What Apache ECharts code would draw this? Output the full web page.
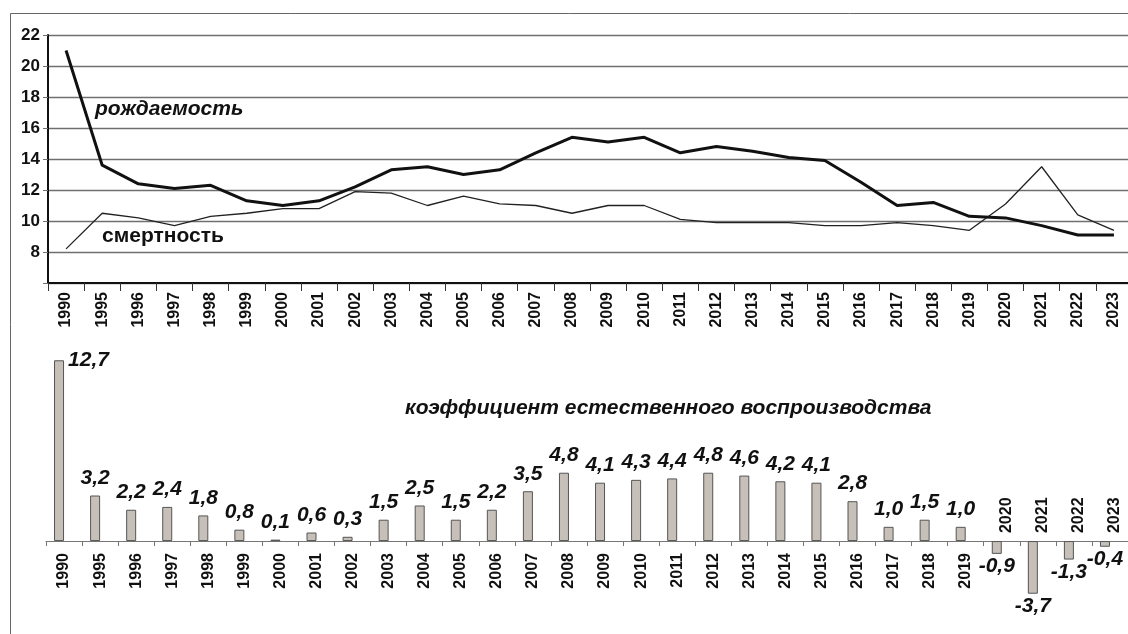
<!DOCTYPE html>
<html>
<head>
<meta charset="utf-8">
<script src="https://cdn.jsdelivr.net/npm/echarts@6/dist/echarts.min.js"></script>
<style>
  html, body { margin: 0; padding: 0; background: #fff; }
  #chart { width: 1128px; height: 634px; }
</style>
</head>
<body>
<div id="chart"></div>
<script>
var myChart = echarts.init(document.getElementById("chart"));

// годы
var years = ["1990", "1995", "1996", "1997", "1998", "1999", "2000", "2001", "2002", "2003",
	"2004", "2005", "2006", "2007", "2008", "2009", "2010", "2011", "2012", "2013",
	"2014", "2015", "2016", "2017", "2018", "2019", "2020", "2021", "2022", "2023"];
// рождаемость, на 1000 чел.
var birthRate = [21.0, 13.6, 12.4, 12.1, 12.3, 11.3, 11.0, 11.3, 12.2, 13.3,
	13.5, 13.0, 13.3, 14.4, 15.4, 15.1, 15.4, 14.4, 14.8, 14.5,
	14.1, 13.9, 12.5, 11.0, 11.2, 10.3, 10.2, 9.7, 9.1, 9.1];
// смертность, на 1000 чел.
var deathRate = [8.2, 10.5, 10.2, 9.7, 10.3, 10.5, 10.8, 10.8, 11.9, 11.8,
	11.0, 11.6, 11.1, 11.0, 10.5, 11.0, 11.0, 10.1, 9.9, 9.9,
	9.9, 9.7, 9.7, 9.9, 9.7, 9.4, 11.1, 13.5, 10.4, 9.4];
// коэффициент естественного воспроизводства
var naturalRate = [12.7, 3.2, 2.2, 2.4, 1.8, 0.8, 0.1, 0.6, 0.3, 1.5,
	2.5, 1.5, 2.2, 3.5, 4.8, 4.1, 4.3, 4.4, 4.8, 4.6,
	4.2, 4.1, 2.8, 1.0, 1.5, 1.0, -0.9, -3.7, -1.3, -0.4];
// деления оси
var yTicks = { min: 6, max: 22, step: 2 };

var font = "'Liberation Sans', Arial, sans-serif";

// нижний график: диапазон и размеры
var barMin = -4, barMax = 13;
var barGridTop = 356, barGridH = 242;
// ось X нижнего графика проходит по нулю
var zeroOffset = -barGridH * (-barMin) / (barMax - barMin);

function fmt(v) {
	return v.toFixed(1).replace(".", ",");
}

var barData = naturalRate.map(function (v, i) {
	var item = { value: v };
	if (v < 0) {
		item.label = { position: "bottom", distance: 2 };
	} else if (i === 0) {
		item.label = { position: [14, 0], align: "left", verticalAlign: "middle" };
	}
	return item;
});

// подписи годов над осью для отрицательных значений
var yearAbove = naturalRate.map(function (v) {
	return v < 0 ? 0 : "-";
});

var option = {
	animation: false,
	backgroundColor: "#fff",
	textStyle: { fontFamily: font },
	graphic: [
		{
			type: "rect",
			left: 8, top: 11,
			shape: { width: 1140, height: 640 },
			style: { fill: "none", stroke: "#666", lineWidth: 1 },
			silent: true
		},
		{
			type: "text",
			left: 95, top: 99,
			style: { text: "рождаемость", font: "italic bold 21px " + font, fill: "#111" }
		},
		{
			type: "text",
			left: 102, top: 226,
			style: { text: "смертность", font: "bold 21px " + font, fill: "#111" }
		},
		{
			type: "text",
			left: 405, top: 398,
			style: { text: "коэффициент естественного воспроизводства", font: "italic bold 21px " + font, fill: "#111" }
		}
	],
	grid: [
		{ left: 48, top: 35, width: 1084, height: 248, outerBoundsMode: "none" },
		{ left: 46, top: barGridTop, width: 1082, height: barGridH, outerBoundsMode: "none" }
	],
	xAxis: [
		{
			type: "category",
			gridIndex: 0,
			data: years,
			boundaryGap: true,
			axisLine: { lineStyle: { color: "#111", width: 2 } },
			axisTick: { show: true, length: 8, lineStyle: { color: "#333" } },
			axisLabel: {
				interval: 0, rotate: 90, margin: 9,
				fontSize: 16, fontWeight: "bold", color: "#111", fontFamily: font
			}
		},
		{
			type: "category",
			gridIndex: 1,
			data: years,
			boundaryGap: true,
			position: "bottom",
			offset: zeroOffset,
			axisLine: { onZero: false, lineStyle: { color: "#777", width: 1 } },
			axisTick: { show: true, length: 5, lineStyle: { color: "#777" } },
			axisLabel: {
				interval: 0, rotate: 90, margin: 12,
				fontSize: 16, fontWeight: "bold", color: "#111", fontFamily: font,
				formatter: function (val, idx) {
					return naturalRate[idx] < 0 ? "" : val;
				}
			}
		}
	],
	yAxis: [
		{
			type: "value",
			gridIndex: 0,
			min: yTicks.min, max: yTicks.max, interval: yTicks.step,
			axisLine: { show: true, lineStyle: { color: "#111", width: 2 } },
			axisTick: { show: true, length: 5, lineStyle: { color: "#6f6f6f" } },
			splitLine: { show: true, lineStyle: { color: "#6f6f6f", width: 1.3 } },
			axisLabel: {
				margin: 8, fontSize: 17, fontWeight: "bold", color: "#111", fontFamily: font,
				formatter: function (v) {
					return v === yTicks.min ? "" : v;
				}
			}
		},
		{
			type: "value",
			gridIndex: 1,
			min: barMin, max: barMax,
			show: false,
			splitLine: { show: false }
		}
	],
	series: [
		{
			name: "рождаемость",
			type: "line",
			xAxisIndex: 0, yAxisIndex: 0,
			data: birthRate,
			symbol: "none",
			lineStyle: { color: "#111", width: 3 },
			z: 5
		},
		{
			name: "смертность",
			type: "line",
			xAxisIndex: 0, yAxisIndex: 0,
			data: deathRate,
			symbol: "none",
			lineStyle: { color: "#222", width: 1.3 },
			z: 4
		},
		{
			name: "коэффициент естественного воспроизводства",
			type: "bar",
			xAxisIndex: 1, yAxisIndex: 1,
			data: barData,
			barWidth: 10,
			barGap: "0%",
			itemStyle: { color: "#c6c0b9", borderColor: "#555", borderWidth: 1 },
			label: {
				show: true,
				position: "top",
				distance: 7,
				fontSize: 21,
				fontWeight: "bold",
				fontStyle: "italic",
				color: "#111",
				fontFamily: font,
				formatter: function (p) {
					return fmt(p.value);
				}
			}
		},
		{
			name: "годы",
			type: "bar",
			xAxisIndex: 1, yAxisIndex: 1,
			data: yearAbove,
			barWidth: 10,
			itemStyle: { color: "rgba(0,0,0,0)" },
			label: {
				show: true,
				position: "top",
				distance: 8,
				rotate: 90,
				align: "left",
				verticalAlign: "middle",
				fontSize: 16,
				fontWeight: "bold",
				color: "#111",
				fontFamily: font,
				formatter: "{b}"
			}
		}
	]
};

myChart.setOption(option);

window.addEventListener("resize", function () {
	myChart.resize();
});
</script>
</body>
</html>
